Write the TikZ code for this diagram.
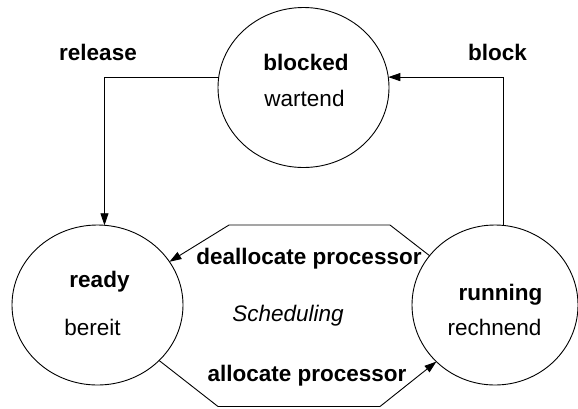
\documentclass[tikz,border=0pt]{standalone}
\usepackage{fontspec}
\setmainfont{Liberation Sans}
\usetikzlibrary{shapes.geometric,arrows.meta}
\begin{document}
\begin{tikzpicture}[x=1pt,y=-1pt,
  every node/.style={font=\fontsize{22.5}{27}\selectfont, inner sep=0pt, outer sep=0pt},
  statebox/.style={draw, ellipse, line width=0.9pt, minimum height=160pt},
  lbl/.style={anchor=base},
  bl/.style={anchor=base, font=\fontsize{22.5}{27}\selectfont\bfseries},
  conn/.style={line width=0.9pt},
  arr/.style={conn, -{Triangle[length=12pt,width=8pt]}}]
\useasboundingbox (0,0) rectangle (578,408);
% states
\node[statebox, minimum width=171pt] (blocked) at (303.5,87.5) {};
\node[statebox, minimum width=171pt] (ready) at (97.5,305) {};
\node[statebox, minimum width=166pt] (running) at (495,305) {};
% state texts
\node[bl] (tblocked) at (306,70.5) {blocked};
\node[lbl] (twartend) at (304.5,106) {wartend};
\node[bl] (tready) at (99.5,287) {ready};
\node[lbl] (tbereit) at (92.5,335) {bereit};
\node[bl] (trunning) at (500.5,300.5) {running};
\node[lbl] (trechnend) at (494.5,335) {rechnend};
% transitions labels
\node[bl] (trelease) at (98,60) {release};
\node[bl] (tblock) at (497.5,60) {block};
\node[bl] (tdealloc) at (309,264) {deallocate processor};
\node[anchor=base, font=\fontsize{22.5}{27}\selectfont\itshape] (tsched) at (288,321.5) {Scheduling};
\node[bl] (talloc) at (307,381) {allocate processor};
% corners of the scheduling octagon
\coordinate (c1) at (390,225);
\coordinate (c2) at (229,225);
\coordinate (c3) at (218,406.5);
\coordinate (c4) at (380,406.5);
% connectors
\draw[arr] (blocked.173) -| (ready.85);
\draw[arr] (running.84) |- (blocked.7);
\draw[arr] (running.143) -- (c1) -- (c2) -- (ready.31);
\draw[arr] (ready.-42) -- (c3) -- (c4) -- (running.224);
\end{tikzpicture}
\end{document}
